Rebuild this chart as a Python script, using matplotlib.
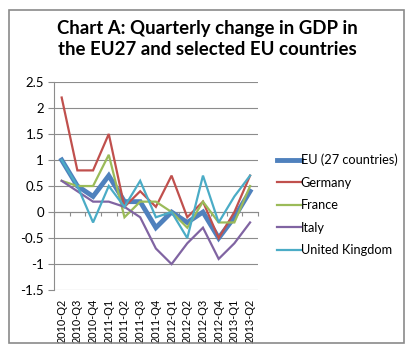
import matplotlib
matplotlib.use("Agg")
import matplotlib.pyplot as plt
from matplotlib.patches import Rectangle

quarters = ["2010-Q2", "2010-Q3", "2010-Q4", "2011-Q1", "2011-Q2", "2011-Q3", "2011-Q4",
            "2012-Q1", "2012-Q2", "2012-Q3", "2012-Q4", "2013-Q1", "2013-Q2"]
eu27 = [1.0, 0.5, 0.3, 0.7, 0.2, 0.2, -0.3, 0.0, -0.2, 0.0, -0.5, -0.1, 0.4]
germany = [2.2, 0.8, 0.8, 1.5, 0.1, 0.4, 0.1, 0.7, -0.1, 0.2, -0.5, 0.0, 0.7]
france = [0.6, 0.5, 0.5, 1.1, -0.1, 0.2, 0.2, 0.0, -0.3, 0.2, -0.2, -0.2, 0.5]
italy = [0.6, 0.4, 0.2, 0.2, 0.1, -0.1, -0.7, -1.0, -0.6, -0.3, -0.9, -0.6, -0.2]
uk = [1.0, 0.5, -0.2, 0.5, 0.1, 0.6, -0.1, 0.0, -0.5, 0.7, -0.2, 0.3, 0.7]

series = [("EU (27 countries)", eu27, "#4F81BD", 3.5),
          ("Germany", germany, "#C0504D", 1.6),
          ("France", france, "#9BBB59", 1.6),
          ("Italy", italy, "#8064A2", 1.6),
          ("United Kingdom", uk, "#4BACC6", 1.6)]

plt.rcParams['font.family'] = ['Lato', 'DejaVu Sans']

fig = plt.figure(figsize=(4.14, 3.5), dpi=100)
ax = fig.add_axes([0.130, 0.171, 0.493, 0.595])

x = list(range(len(quarters)))
for name, vals, col, lw in series:
    ax.plot(x, vals, color=col, lw=lw, label=name, solid_joinstyle='miter')

ax.set_xlim(-0.5, len(quarters) - 0.5)
ax.set_ylim(-1.5, 2.5)
ax.set_yticks([-1.5, -1, -0.5, 0, 0.5, 1, 1.5, 2, 2.5])
ax.set_yticklabels(["-1.5", "-1", "-0.5", "0", "0.5", "1", "1.5", "2", "2.5"])
ax.yaxis.grid(True, color="#8c8c8c", lw=0.8)
ax.set_axisbelow(True)
ax.tick_params(axis='y', labelsize=9.5, length=4, color="#8c8c8c", pad=3)
ax.set_xticks(x)
ax.set_xticklabels(quarters, rotation=90, fontsize=7.8)
ax.tick_params(axis='x', length=0, pad=6)
for s in ["top", "right", "bottom"]:
    ax.spines[s].set_visible(False)
ax.spines["left"].set_color("#8c8c8c")

# category axis crossing at zero
sec = ax.secondary_xaxis(1.5 / 4.0)
sec.set_xticks([k + 0.5 for k in range(-1, len(quarters))])
sec.tick_params(axis='x', direction='out', length=3, color="#8c8c8c", labelbottom=False)
sec.spines["bottom"].set_color("#8c8c8c")
sec.spines["bottom"].set_linewidth(0.8)

leg = ax.legend(loc="center left", bbox_to_anchor=(1.093, 0.409), frameon=False,
                borderaxespad=0, borderpad=0,
                fontsize=9.2, handlelength=1.85, handletextpad=0.0, labelspacing=0.82)

fig.text(0.5, 0.889, "Chart A: Quarterly change in GDP in\nthe EU27 and selected EU countries",
         ha="center", va="center", fontsize=13.4, fontweight="bold", linespacing=1.25)

fig.patches.append(Rectangle((9 / 414, 1 - 343 / 350), 395 / 414, 333 / 350,
                             transform=fig.transFigure, fill=False,
                             edgecolor="#8a8a8a", lw=1.2))

fig.savefig("out.png", dpi=100)
